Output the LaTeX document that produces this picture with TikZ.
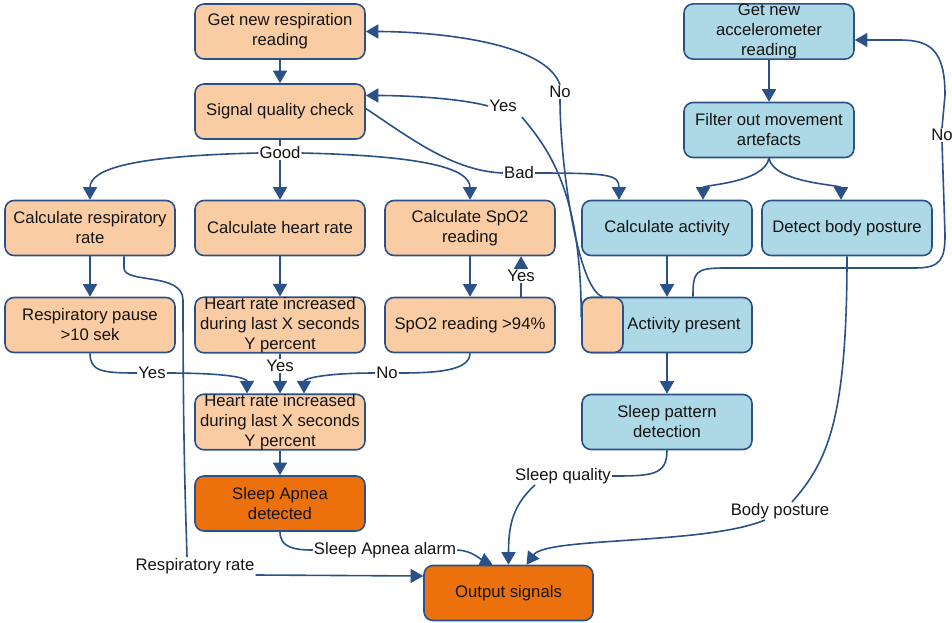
\documentclass[tikz,border=0pt]{standalone}
\usepackage{fontspec}
\setmainfont{Liberation Sans}
\usetikzlibrary{arrows.meta,calc}
\definecolor{lb}{RGB}{42,82,136}
\definecolor{peach}{RGB}{250,204,163}
\definecolor{lblue}{RGB}{173,216,230}
\definecolor{dorange}{RGB}{236,112,12}
\definecolor{txt}{RGB}{20,20,20}
\begin{document}
\begin{tikzpicture}[x=1pt,y=-1pt,
  box/.style={draw=lb, line width=1.6pt, rounded corners=9pt, minimum width=170pt,
    minimum height=55pt, align=center, inner sep=0pt, text=txt,
    font=\fontsize{16.7}{20}\selectfont},
  pbox/.style={box, fill=peach},
  bbox/.style={box, fill=lblue},
  obox/.style={box, fill=dorange},
  lbl/.style={fill=white, inner sep=1pt, text=txt, font=\fontsize{16.7}{20}\selectfont},
  ln/.style={draw=lb, line width=1.6pt},
  arr/.style={ln, -{Triangle[width=14pt,length=12.5pt]}}]
\useasboundingbox (0,0) rectangle (952,622);
% nodes
\node[pbox] (resp) at (280,31.5) {Get new respiration\\reading};
\node[pbox] (sig) at (280,111.5) {Signal quality check};
\node[pbox] (cresp) at (90,228) {Calculate respiratory\\rate};
\node[pbox] (chr) at (280,228) {Calculate heart rate};
\node[pbox] (cspo) at (470,228) {Calculate SpO2\\reading};
\node[pbox] (rp) at (90,325) {Respiratory pause\\>10 sek};
\node[pbox] (hr1) at (280,325) {Heart rate increased\\during last X seconds\\Y percent};
\node[pbox] (spo) at (470,325) {SpO2 reading >94\%};
\node[pbox] (hr2) at (280,422) {Heart rate increased\\during last X seconds\\Y percent};
\node[obox] (sa) at (280,503.5) {Sleep Apnea\\detected};
\node[obox, minimum width=169pt] (out) at (508.5,593) {Output signals};
\node[bbox] (acc) at (769,31.5) {Get new\\accelerometer\\reading};
\node[bbox] (filt) at (769,130) {Filter out movement\\artefacts};
\node[bbox] (cact) at (667,228) {Calculate activity};
\node[bbox] (post) at (847,228) {Detect body posture};
\node[bbox] (act) at (667,325) {};
\node[pbox, minimum width=41pt] (actsq) at (602.5,325) {};
\node[text=txt, font=\fontsize{16.7}{20}\selectfont] (acttxt) at (684,325) {Activity present};
\node[bbox] (sp) at (667,422) {Sleep pattern\\detection};
% labels
\node[lbl] (good) at (280,153) {Good};
\node[lbl] (bad) at (519,173) {Bad};
\node[lbl] (yes1) at (503,106) {Yes};
\node[lbl] (no1) at (560,92) {No};
\node[lbl] (no2) at (942,135) {No};
\node[lbl] (yes2) at (152,373) {Yes};
\node[lbl] (yes3) at (280,366) {Yes};
\node[lbl] (no3) at (387,373) {No};
\node[lbl] (yes4) at (521,276) {Yes};
\node[lbl] (rrlbl) at (195,566) {Respiratory rate};
\node[lbl] (salbl) at (385,550) {Sleep Apnea alarm};
\node[lbl] (sqlbl) at (563,476) {Sleep quality};
\node[lbl] (bplbl) at (780,511) {Body posture};
% connectors
\draw[arr] (resp) -- (sig);
\draw[ln] (sig.south) -- (good.north);
\draw[arr] (good.south) -- (chr.north);
\draw[arr] (good.west) .. controls +(-130,3) and +(0,-30) .. (cresp.north);
\draw[arr] (good.east) .. controls +(130,3) and +(0,-30) .. (cspo.north);
\draw[ln] ($(sig.east)+(0,-3)$) .. controls +(45,30) and +(-50,-2) .. (bad.west);
\draw[arr] (bad.east) .. controls +(75,0) and +(0,-25) .. ($(cact.north)+(-48,0)$);
\draw[arr] (cresp) -- (rp);
\draw[arr] (chr) -- (hr1);
\draw[arr] (cspo) -- (spo);
\draw[ln] ($(spo.north)+(51,0)$) -- (yes4.south);
\draw[arr] (yes4.north) -- ($(cspo.south)+(51,0)$);
\draw[ln] (rp.south) .. controls +(0,18) and +(-35,0) .. (yes2.west);
\draw[arr] (yes2.east) .. controls +(65,0) and +(0,-15) .. ($(hr2.north)+(-33,0)$);
\draw[ln] (hr1.south) -- (yes3.north);
\draw[arr] (yes3.south) -- (hr2.north);
\draw[ln] (spo.south) .. controls +(0,18) and +(35,0) .. (no3.east);
\draw[arr] (no3.west) .. controls +(-50,0) and +(0,-15) .. ($(hr2.north)+(24,0)$);
\draw[arr] (hr2) -- (sa);
\draw[ln] (sa.south) .. controls +(0,15) and +(-20,0) .. (salbl.west);
\draw[arr] (salbl.east) to[out=-3,in=155] ($(out.north)+(-16,0)$);
\draw[ln] ($(cresp.south)+(34,0)$) -- (124,268) .. controls (124,284) and (183,272) .. (183,300)
  .. controls (183,450) and (186,520) .. ($(rrlbl.north)+(-8,0)$);
\draw[arr] (rrlbl.south east) -- ($(out.west)+(0,-17)$);
\draw[arr] (acc) -- (filt);
\draw[arr] (filt.south) .. controls +(-5,25) and +(0,-15) .. ($(cact.north)+(36,0)$);
\draw[arr] (filt.south) .. controls +(5,25) and +(0,-15) .. ($(post.north)+(-6,0)$);
\draw[arr] (cact) -- (act);
\draw[arr] (act) -- (sp);
\draw[ln] ($(act.north)+(26,0)$) .. controls +(0,-25) and +(-30,0) .. (725,268) -- (915,268)
  .. controls (940,268) and (945,260) .. (945,235) -- (no2.south);
\draw[arr] (no2.north) -- (945,95) .. controls (945,50) and (930,40) .. (900,40) -- (acc.east |- 0,40);
\draw[ln] (actsq.north) .. controls +(-25,-8) and +(0,65) .. (no1.south);
\draw[arr] (no1.north) .. controls +(-15,-45) and +(60,0) .. (resp.east);
\draw[ln] ($(actsq.west)+(0,-8)$) .. controls +(0,-120) and +(30,35) .. ($(yes1.south east)+(4,4)$);
\draw[arr] (yes1.west) .. controls +(-30,-8) and +(40,0) .. ($(sig.east)+(0,-16)$);
\draw[ln] (sp.south) .. controls +(0,25) and +(40,0) .. (sqlbl.east);
\draw[arr] ($(sqlbl.south)+(-28,0)$) .. controls +(-22,20) and +(0,-40) .. (out.north);
\draw[ln] (post.south) .. controls +(0,165) and +(35,-40) .. ($(bplbl.north)+(12,0)$);
\draw[arr] ($(bplbl.south)+(-15,0)$) .. controls +(-60,25) and +(20,-28) .. ($(out.north)+(18,0)$);
\end{tikzpicture}
\end{document}
